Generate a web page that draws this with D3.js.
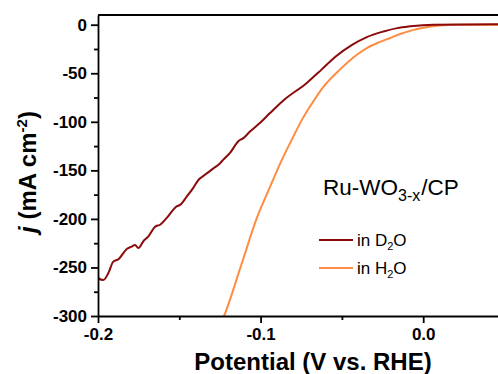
<!DOCTYPE html>
<html>
<head>
<meta charset="UTF-8">
<script src="https://d3js.org/d3.v7.min.js"></script>
<style>
  body { margin: 0; background: #fff; }
  svg { display: block; font-family: "Liberation Sans", Arial, sans-serif; }
  .axis path, .axis line { stroke: #000; stroke-width: 1.8; }
  .axis text { font-size: 17px; font-weight: bold; fill: #000; }
</style>
</head>
<body>
<svg width="498" height="374"></svg>
<script>
// values
const d2oPotential = [-0.2000, -0.1998, -0.1967, -0.1937, -0.1906, -0.1875, -0.1823, -0.1793, -0.1772, -0.1752,
  -0.1721, -0.1690, -0.1649, -0.1618, -0.1577, -0.1516, -0.1495, -0.1454, -0.1414, -0.1383, -0.1342, -0.1290,
  -0.1249, -0.1229, -0.1188, -0.1137, -0.1106, -0.1065, -0.1003, -0.0942, -0.0860, -0.0716, -0.0624,
  -0.0540, -0.0435, -0.0350, -0.0244, -0.0160, -0.0080, 0.0062, 0.0460];
const d2oCurrent = [-259, -261, -263, -256, -244, -241.6, -231, -228.5, -226.8, -230,
  -223, -218, -208, -206, -199, -187, -185.6, -177, -168, -160, -154.6, -148,
  -142.6, -139, -132, -120, -116.8, -110, -101, -91, -78, -60, -46,
  -33, -20.5, -13, -7, -3.5, -1.7, 0, 0.5];

const h2oPotential = [-0.1300, -0.1225, -0.1120, -0.1023, -0.0942, -0.0880, -0.0798, -0.0746, -0.0695,
  -0.0614, -0.0511, -0.0408, -0.0347, -0.0270, -0.0203, -0.0142, -0.0070, 0.0000, 0.0100, 0.0185, 0.0460];
const h2oCurrent = [-325, -300, -248, -199, -167, -143, -115, -98, -84,
  -64, -46, -31, -24, -18, -13.7, -9.6, -5.8, -3.2, -0.9, 0, 0];

const xTicks = [-0.2, -0.1, 0.0];
const xMinor = [-0.15, -0.05];
const yTicks = [0, -50, -100, -150, -200, -250, -300];
const yMinor = [-25, -75, -125, -175, -225, -275];

const svg = d3.select("svg");
const pLeft = 98, pRight = 498, pTop = 15, pBottom = 316;

const x = d3.scaleLinear().domain([-0.2, 0.046]).range([pLeft, pRight]);
const y = d3.scaleLinear().domain([-300, 10]).range([pBottom, pTop]);

svg.append("defs").append("clipPath").attr("id", "clip")
  .append("rect").attr("x", pLeft).attr("y", pTop).attr("width", pRight - pLeft).attr("height", pBottom - pTop);

// curves
const d2o = d2oPotential.map((v, i) => [v, d2oCurrent[i]]);
const h2o = h2oPotential.map((v, i) => [v, h2oCurrent[i]]);

const line = d3.line().x(d => x(d[0])).y(d => y(d[1])).curve(d3.curveMonotoneX);

const plot = svg.append("g").attr("clip-path", "url(#clip)");
plot.append("path").datum(h2o).attr("d", line)
  .attr("fill", "none").attr("stroke", "#ff8c42").attr("stroke-width", 2);
plot.append("path").datum(d2o).attr("d", line)
  .attr("fill", "none").attr("stroke", "#8b0a0a").attr("stroke-width", 2)
  .attr("stroke-linejoin", "round");

// axes
svg.append("g").attr("class", "axis")
  .attr("transform", `translate(0,${pBottom})`)
  .call(d3.axisBottom(x).tickValues(xTicks).tickFormat(d => d.toFixed(1))
    .tickSize(7).tickSizeOuter(0).tickPadding(5));
svg.append("g").attr("class", "axis")
  .attr("transform", `translate(0,${pBottom})`)
  .call(d3.axisBottom(x).tickValues(xMinor).tickFormat("").tickSize(4).tickSizeOuter(0))
  .select(".domain").remove();

svg.append("g").attr("class", "axis")
  .attr("transform", `translate(${pLeft},0)`)
  .call(d3.axisLeft(y).tickValues(yTicks).tickFormat(d => String(d))
    .tickSize(7).tickSizeOuter(0).tickPadding(4));
svg.append("g").attr("class", "axis")
  .attr("transform", `translate(${pLeft},0)`)
  .call(d3.axisLeft(y).tickValues(yMinor).tickFormat("").tickSize(4).tickSizeOuter(0))
  .select(".domain").remove();

// top frame
svg.append("line").attr("x1", pLeft).attr("x2", pRight).attr("y1", pTop).attr("y2", pTop)
  .attr("stroke", "#000").attr("stroke-width", 1.8);

// axis titles
svg.append("text").attr("x", 313).attr("y", 370).attr("text-anchor", "middle")
  .style("font-size", "24px").style("font-weight", "bold").text("Potential (V vs. RHE)");

const yl = svg.append("text").attr("transform", "translate(36,172) rotate(-90)")
  .attr("text-anchor", "middle").style("font-size", "24px").style("font-weight", "bold");
yl.append("tspan").style("font-style", "italic").text("j");
yl.append("tspan").text(" (mA cm");
yl.append("tspan").attr("dy", -9).style("font-size", "15px").text("-2");
yl.append("tspan").attr("dy", 9).text(")");

// legend
const t = svg.append("text").attr("x", 323).attr("y", 195).style("font-size", "22.5px");
t.append("tspan").text("Ru-WO");
t.append("tspan").attr("dy", 6).style("font-size", "16px").text("3-x");
t.append("tspan").attr("dy", -6).attr("dx", 1).text("/CP");

const legend = [
  { label: "D", color: "#8b0a0a", yy: 240 },
  { label: "H", color: "#ff8c42", yy: 268 }
];
legend.forEach(l => {
  svg.append("line").attr("x1", 319).attr("x2", 353).attr("y1", l.yy).attr("y2", l.yy)
    .attr("stroke", l.color).attr("stroke-width", 2);
  const lt = svg.append("text").attr("x", 357).attr("y", l.yy + 6).style("font-size", "17px");
  lt.append("tspan").text("in " + l.label);
  lt.append("tspan").attr("dy", 4).style("font-size", "11px").text("2");
  lt.append("tspan").attr("dy", -4).text("O");
});
</script>
</body>
</html>
